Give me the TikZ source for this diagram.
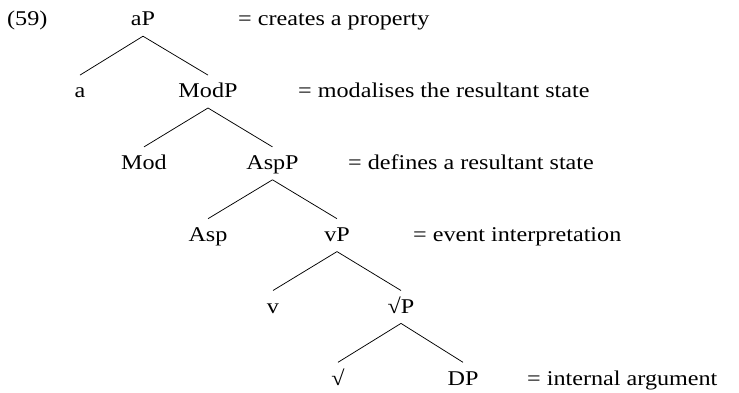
\documentclass[tikz,border=0pt]{standalone}
\usepackage{fontspec}
\setmainfont{Liberation Serif}[FakeStretch=1.15]
\begin{document}
\begin{tikzpicture}[x=1pt,y=-1pt,
  every node/.style={font=\fontsize{21}{25}\selectfont},
  lab/.style={anchor=base, inner xsep=0pt, inner ysep=4pt, text height=18.5pt, text depth=6pt},
  note/.style={anchor=base west, inner sep=0pt},
  branch/.style={line width=0.75pt}]
  \useasboundingbox (0,0) rectangle (739,393);
  % example number
  \node[note] (num) at (7,26) {(59)};
  % tree nodes, one row per level
  \node[lab] (aP)    at (143,26)    {aP};
  \node[lab] (a)     at (80,97.8)   {a};
  \node[lab] (ModP)  at (208,97.8)  {ModP};
  \node[lab] (Mod)   at (144,169.6) {Mod};
  \node[lab] (AspP)  at (272.5,169.6) {AspP};
  \node[lab] (Asp)   at (208,241.4) {Asp};
  \node[lab] (vP)    at (337,241.4) {vP};
  \node[lab] (v)     at (273,313.2) {v};
  \node[lab] (rootP) at (401,313.2) {√P};
  \node[lab] (root)  at (338,385)   {√};
  \node[lab] (DP)    at (463,385)   {DP};
  % branches
  \foreach \p/\c in {aP/a, aP/ModP, ModP/Mod, ModP/AspP, AspP/Asp, AspP/vP,
                     vP/v, vP/rootP, rootP/root, rootP/DP}
    \draw[branch] (\p.south) -- (\c.north);
  % glosses
  \node[note] (g1) at (238,26)    {= creates a property};
  \node[note] (g2) at (298,97.8)  {= modalises the resultant state};
  \node[note] (g3) at (348,169.6) {= defines a resultant state};
  \node[note] (g4) at (413,241.4) {= event interpretation};
  \node[note] (g5) at (527,385)   {= internal argument};
\end{tikzpicture}
\end{document}
